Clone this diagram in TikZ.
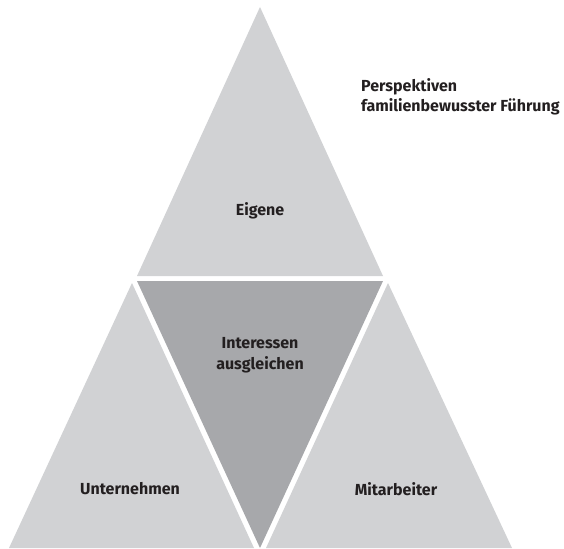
\documentclass[tikz,border=0pt]{standalone}
\usepackage{fontspec}
\setmainfont{Fira Sans}
\definecolor{lightgr}{HTML}{D1D2D4}
\definecolor{darkgr}{HTML}{A7A8AB}
\definecolor{txt}{HTML}{231F20}
\tikzset{
  lighttri/.style={fill=lightgr},
  darktri/.style={fill=darkgr},
  lbl/.style={font=\fontsize{16}{20.5}\selectfont\bfseries, text=txt, align=center, inner sep=0pt}
}
\begin{document}
\begin{tikzpicture}[x=1pt,y=-1pt]
\useasboundingbox (0,0) rectangle (564,548);
% top triangle
\fill[lighttri] (260,7) -- (383,276) -- (137,276) -- cycle;
% inverted middle
\fill[darktri] (137,281) -- (383,281) -- (260,548) -- cycle;
% left
\fill[lighttri] (132,283) -- (254,548) -- (9,548) -- cycle;
% right
\fill[lighttri] (388,283) -- (512,548) -- (266,548) -- cycle;
\node[lbl] (eig) at (260,211) {Eigene};
\node[lbl] (int) at (260,355) {Interessen\\ausgleichen};
\node[lbl] (unt) at (130,489) {Unternehmen};
\node[lbl] (mit) at (396,489) {Mitarbeiter};
\node[lbl, anchor=west, align=left] (tit) at (361,97) {Perspektiven\\familienbewusster Führung};
\end{tikzpicture}
\end{document}
